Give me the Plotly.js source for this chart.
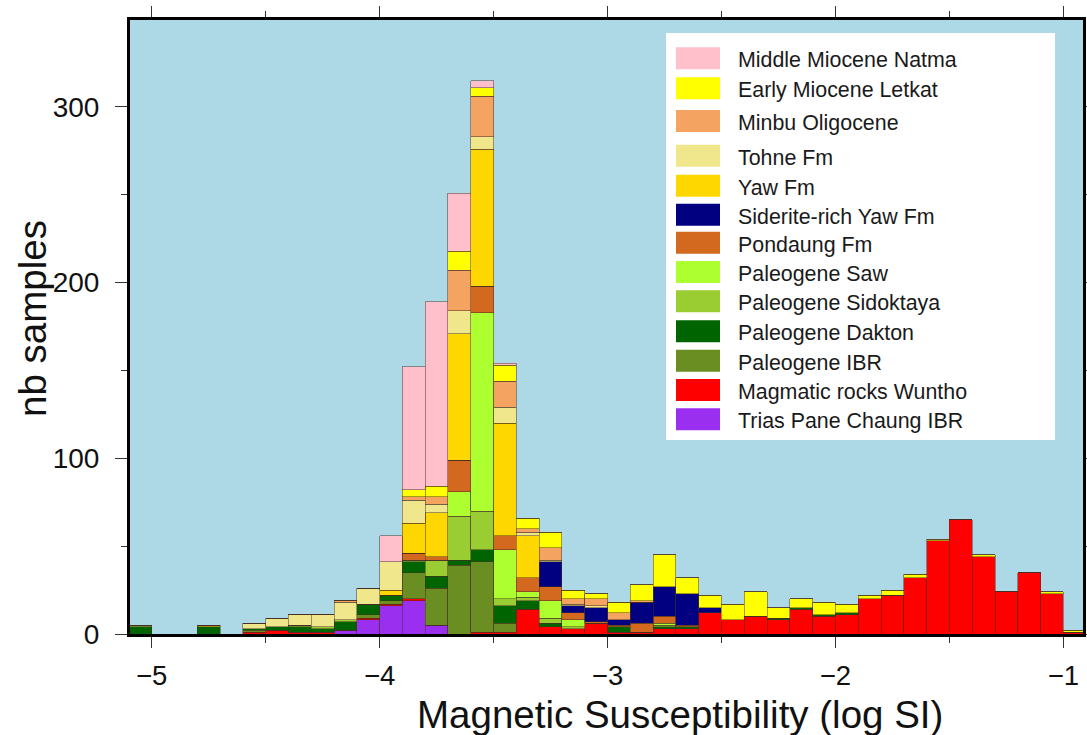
<!DOCTYPE html>
<html><head><meta charset="utf-8">
<script src="https://cdn.plot.ly/plotly-3.0.1.min.js"></script>
<style>html,body{margin:0;padding:0;background:#fff}#chart{width:1087px;height:735px}</style>
</head><body><div id="chart"></div>
<script>
// ---------------- DATA ----------------
const BIN_CENTERS = [-5.05,-4.95,-4.85,-4.75,-4.65,-4.55,-4.45,-4.35,-4.25,-4.15,
  -4.05,-3.95,-3.85,-3.75,-3.65,-3.55,-3.45,-3.35,-3.25,-3.15,
  -3.05,-2.95,-2.85,-2.75,-2.65,-2.55,-2.45,-2.35,-2.25,-2.15,
  -2.05,-1.95,-1.85,-1.75,-1.65,-1.55,-1.45,-1.35,-1.25,-1.15,
  -1.05,-0.95];

const SERIES_NAMES = ["Middle Miocene Natma","Early Miocene Letkat","Minbu Oligocene","Tohne Fm","Yaw Fm",
  "Siderite-rich Yaw Fm","Pondaung Fm","Paleogene Saw","Paleogene Sidoktaya","Paleogene Dakton",
  "Paleogene IBR","Magmatic rocks Wuntho","Trias Pane Chaung IBR"];
const SERIES_COLORS = ["#FFC0CB","#FFFF00","#F4A460","#F0E68C","#FFD700","#000080","#D2691E",
  "#ADFF2F","#9ACD32","#006400","#6B8E23","#FF0000","#9B2FF0"];

const NATMA     = [0,0,0,0,0,0,0,0,0,0, 0,15,70,105,33,4,1,0,0,0, 0,0,0,0,0,0,0,0,0,0, 0,0,0,0,0,0,0,0,0,0, 0,0];
const LETKAT    = [0,0,0,0,0,0,0,0,0,0, 0,0,4,6,11,5,9,6,9,5, 3,6,9,18,9,7,9,14,6,5, 7,5,2,3,2,1,0,1,0,0, 1,1];
const MINBU     = [0,0,0,0,0,0,0,0,0,1, 0,0,2,4,23,23,15,2,7,3, 4,4,1,0,0,0,0,0,0,0, 0,0,0,0,0,0,0,0,0,0, 0,0];
const TOHNE     = [0,0,0,0,0,3,5,6,7,10, 9,16,13,5,13,7,9,2,1,1, 1,0,0,0,0,0,0,0,0,0, 0,0,0,0,0,0,0,0,0,0, 0,0];
const YAW       = [0,0,0,1,0,0,0,0,0,0, 0,3,17,25,72,78,64,24,0,0, 0,0,0,0,0,0,0,0,0,0, 0,0,0,0,0,0,0,0,0,0, 0,0];
const SIDERITE  = [0,0,0,0,0,0,0,0,0,0, 0,0,0,0,0,0,0,0,14,4, 8,3,12,17,18,3,0,0,0,0, 0,0,0,0,0,0,0,0,0,0, 0,0];
const PONDAUNG  = [0,0,0,0,0,0,0,0,0,0, 0,0,4,2,18,15,8,8,8,4, 1,1,5,4,1,0,0,0,0,0, 0,0,0,0,0,0,0,0,0,0, 0,0];
const SAW       = [0,0,0,0,0,0,0,0,0,0, 0,0,0,0,14,113,28,3,10,4, 0,0,0,1,0,0,0,0,0,0, 0,0,0,0,0,0,0,0,0,0, 0,0];
const SIDOKTAYA = [1,0,0,0,0,0,0,1,1,1, 0,0,1,9,25,22,4,2,3,1, 0,0,0,1,0,0,0,0,0,0, 0,0,0,0,0,0,0,0,0,0, 0,0];
const DAKTON    = [4,0,0,4,0,1,2,3,2,5, 6,3,6,7,3,7,10,5,2,0, 0,3,0,1,1,0,0,0,1,1, 1,1,0,0,0,0,0,0,0,0, 0,0];
const IBR       = [0,0,0,0,0,1,0,0,0,0, 2,2,15,21,39,40,5,0,0,0, 0,0,0,0,0,0,0,0,0,0, 0,0,0,0,0,0,0,0,0,0, 0,0];
const WUNTHO    = [0,0,0,0,0,1,2,1,1,0, 1,1,1,0,0,1,1,14,4,3, 6,1,1,3,3,12,8,10,8,14, 10,11,20,22,32,53,65,44,24,35, 23,1];
const TRIAS     = [0,0,0,0,0,0,0,0,0,2, 8,16,19,5,0,0,0,0,0,0, 0,0,0,0,0,0,0,0,0,0, 0,0,0,0,0,0,0,0,0,0, 0,0];

const SERIES_VALUES = [NATMA,LETKAT,MINBU,TOHNE,YAW,SIDERITE,PONDAUNG,SAW,SIDOKTAYA,DAKTON,IBR,WUNTHO,TRIAS];

const X_TICKS = [-5,-4,-3,-2,-1];
const Y_TICKS = [0,100,200,300];
const X_TITLE = "Magnetic Susceptibility (log SI)";
const Y_TITLE = "nb samples";

// ---------------- LAYOUT GEOMETRY ----------------
const L = 130, R = 1083, T = 20, B = 634;
const toPX = x => (x - L) / (R - L);
const toPY = y => (B - y) / (B - T);
const LEGEND_ROWS = [58.3,88.3,121,155.8,185.8,214.7,242.8,272,301.3,331.3,360.8,390,419.2];
const FONT = "Liberation Sans, Arial, Helvetica, sans-serif";

// bars: bottom of stack first
const traces = [];
for (let i = SERIES_NAMES.length - 1; i >= 0; i--) {
  traces.push({
    type: "bar", x: BIN_CENTERS, y: SERIES_VALUES[i], name: SERIES_NAMES[i],
    marker: {color: SERIES_COLORS[i], line: {color: "rgba(70,45,35,0.6)", width: 0.8}},
    showlegend: false, hoverinfo: "skip"
  });
}

const shapes = [{type:"rect", xref:"paper", yref:"paper", x0:toPX(666), x1:toPX(1055), y0:toPY(440), y1:toPY(33),
  fillcolor:"#ffffff", line:{width:0}, layer:"above"}];
const annotations = [];
SERIES_NAMES.forEach((n, i) => {
  const cy = LEGEND_ROWS[i];
  shapes.push({type:"rect", xref:"paper", yref:"paper", x0:toPX(676), x1:toPX(720), y0:toPY(cy+11), y1:toPY(cy-11),
    fillcolor:SERIES_COLORS[i], line:{width:0}, layer:"above"});
  annotations.push({xref:"paper", yref:"paper", x:toPX(736), y:toPY(cy+2), xanchor:"left", yanchor:"middle",
    text:n, showarrow:false, font:{family:FONT, size:21.4, color:"#1a1a1a"}});
});
annotations.push({xref:"paper", yref:"paper", x:toPX(680), y:toPY(714), xanchor:"center", yanchor:"middle",
  text:X_TITLE, showarrow:false, font:{family:FONT, size:38.5, color:"#111"}});
annotations.push({xref:"paper", yref:"paper", x:toPX(32), y:toPY(319), xanchor:"center", yanchor:"middle",
  textangle:-90, text:Y_TITLE, showarrow:false, font:{family:FONT, size:38.5, color:"#111"}});

const layout = {
  width: 1087, height: 735,
  margin: {l: L, r: 1087 - R, t: T, b: 735 - B, pad: 0},
  paper_bgcolor: "#ffffff", plot_bgcolor: "#ADD8E6",
  barmode: "stack", bargap: 0,
  showlegend: false,
  font: {family: FONT, color: "#111"},
  xaxis: {
    range: [-5.095, -0.914], tickmode: "array", tickvals: X_TICKS,
    ticktext: X_TICKS.map(v => "\u2212" + Math.abs(v)),
    ticks: "outside", ticklen: 11, tickwidth: 1, tickcolor: "#333",
    minor: {tickmode: "array", tickvals: [-4.5,-3.5,-2.5,-1.5], ticks: "outside", ticklen: 6, tickwidth: 1, tickcolor: "#333", showgrid: false},
    showline: true, linewidth: 3, linecolor: "#000", mirror: "ticks",
    showgrid: false, zeroline: false,
    tickfont: {family: FONT, size: 27.5, color: "#111"}, ticklabelstandoff: 4
  },
  yaxis: {
    range: [0, 349.5], tickmode: "array", tickvals: Y_TICKS,
    ticks: "outside", ticklen: 12, tickwidth: 1, tickcolor: "#333",
    minor: {tickmode: "array", tickvals: [50,150,250], ticks: "outside", ticklen: 6, tickwidth: 1, tickcolor: "#333", showgrid: false},
    showline: true, linewidth: 3, linecolor: "#000", mirror: "ticks",
    showgrid: false, zeroline: false,
    tickfont: {family: FONT, size: 28, color: "#111"}, ticklabelstandoff: 10
  },
  shapes: shapes,
  annotations: annotations
};

Plotly.newPlot("chart", traces, layout, {staticPlot: true, displayModeBar: false});
</script>
</body></html>
